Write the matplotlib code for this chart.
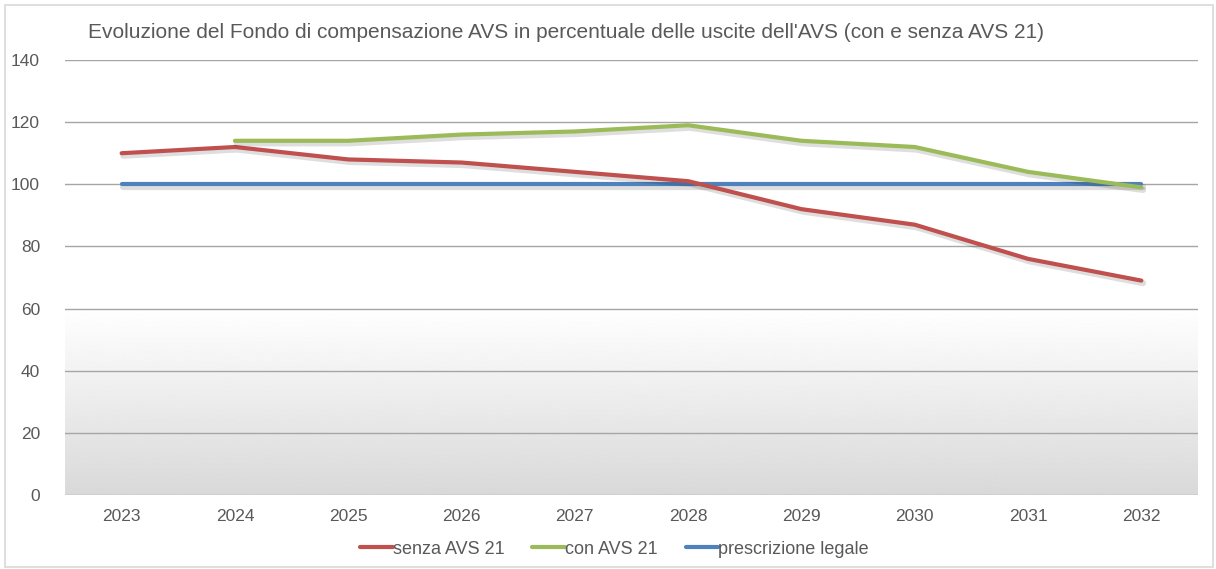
import matplotlib
matplotlib.use("Agg")
import matplotlib.pyplot as plt
import matplotlib.patheffects as pe
from matplotlib.lines import Line2D
import numpy as np
from matplotlib.patches import Rectangle

plt.rcParams['font.family'] = ['Liberation Sans', 'DejaVu Sans']

years = ['2023', '2024', '2025', '2026', '2027', '2028', '2029', '2030', '2031', '2032']
senza = [110, 112, 108, 107, 104, 101, 92, 87, 76, 69]
con = [None, 114, 114, 116, 117, 119, 114, 112, 104, 99]
legale = [100, 100, 100, 100, 100, 100, 100, 100, 100, 100]

title = "Evoluzione del Fondo di compensazione AVS in percentuale delle uscite dell'AVS (con e senza AVS 21)"

colors = {'senza': '#C0504D', 'con': '#9BBB59', 'legale': '#4F81BD'}
labels = {'senza': 'senza AVS 21', 'con': 'con AVS 21', 'legale': 'prescrizione legale'}

fig = plt.figure(figsize=(12.16, 5.69), dpi=100)
ax = fig.add_axes([65/1216, 1-495/569, (1198-65)/1216, (495-60)/569])

x = np.arange(len(years))
ax.set_xlim(-0.5, len(years)-0.5)
ax.set_ylim(0, 140)

# gradient background 0..60
grad = np.linspace(0.85, 1.0, 256).reshape(-1, 1)
ax.imshow(grad, extent=[-0.5, len(years)-0.5, 0, 60], origin='lower', aspect='auto',
          cmap='gray', vmin=0, vmax=1, zorder=0)

ax.set_yticks(range(0, 141, 20))
ax.grid(axis='y', color='#A6A6A6', linewidth=1, zorder=1)
ax.set_axisbelow(True)
for s in ax.spines.values():
    s.set_visible(False)
ax.tick_params(axis='both', length=0, colors='#595959', labelsize=12.5)
ax.tick_params(axis='y', pad=18)
ax.tick_params(axis='x', pad=10)
ax.set_xticks(x)
ax.set_xticklabels(years)

shadow = [pe.SimpleLineShadow(offset=(1.2, -1.8), shadow_color='black', alpha=0.13, linewidth=4.5), pe.Normal()]
con_x = [i for i, v in enumerate(con) if v is not None]
con_y = [v for v in con if v is not None]
ax.plot(x, senza, color=colors['senza'], lw=3, solid_capstyle='round', path_effects=shadow, zorder=3)
ax.plot(con_x, con_y, color=colors['con'], lw=3, solid_capstyle='round', path_effects=shadow, zorder=3)
ax.plot(x, legale, color=colors['legale'], lw=3, solid_capstyle='round', path_effects=shadow, zorder=2)

handles = [Line2D([], [], color=colors[k], lw=3, solid_capstyle='round', label=labels[k])
           for k in ['senza', 'con', 'legale']]
leg = fig.legend(handles=handles, loc='center', bbox_to_anchor=(614.5/1216, 1-549/569), ncol=3,
                 frameon=False, fontsize=13, handlelength=1.8, handletextpad=0.0, columnspacing=1.55)
for t in leg.get_texts():
    t.set_color('#595959')

fig.text(88/1216, 1-32/569, title, fontsize=15, color='#595959', va='center', ha='left')

fig.patches.append(Rectangle((5/1216, 2/569), 1208/1216, 562/569, transform=fig.transFigure,
                             fill=False, edgecolor='#D9D9D9', linewidth=1.2))

fig.savefig('out.png', dpi=100)
